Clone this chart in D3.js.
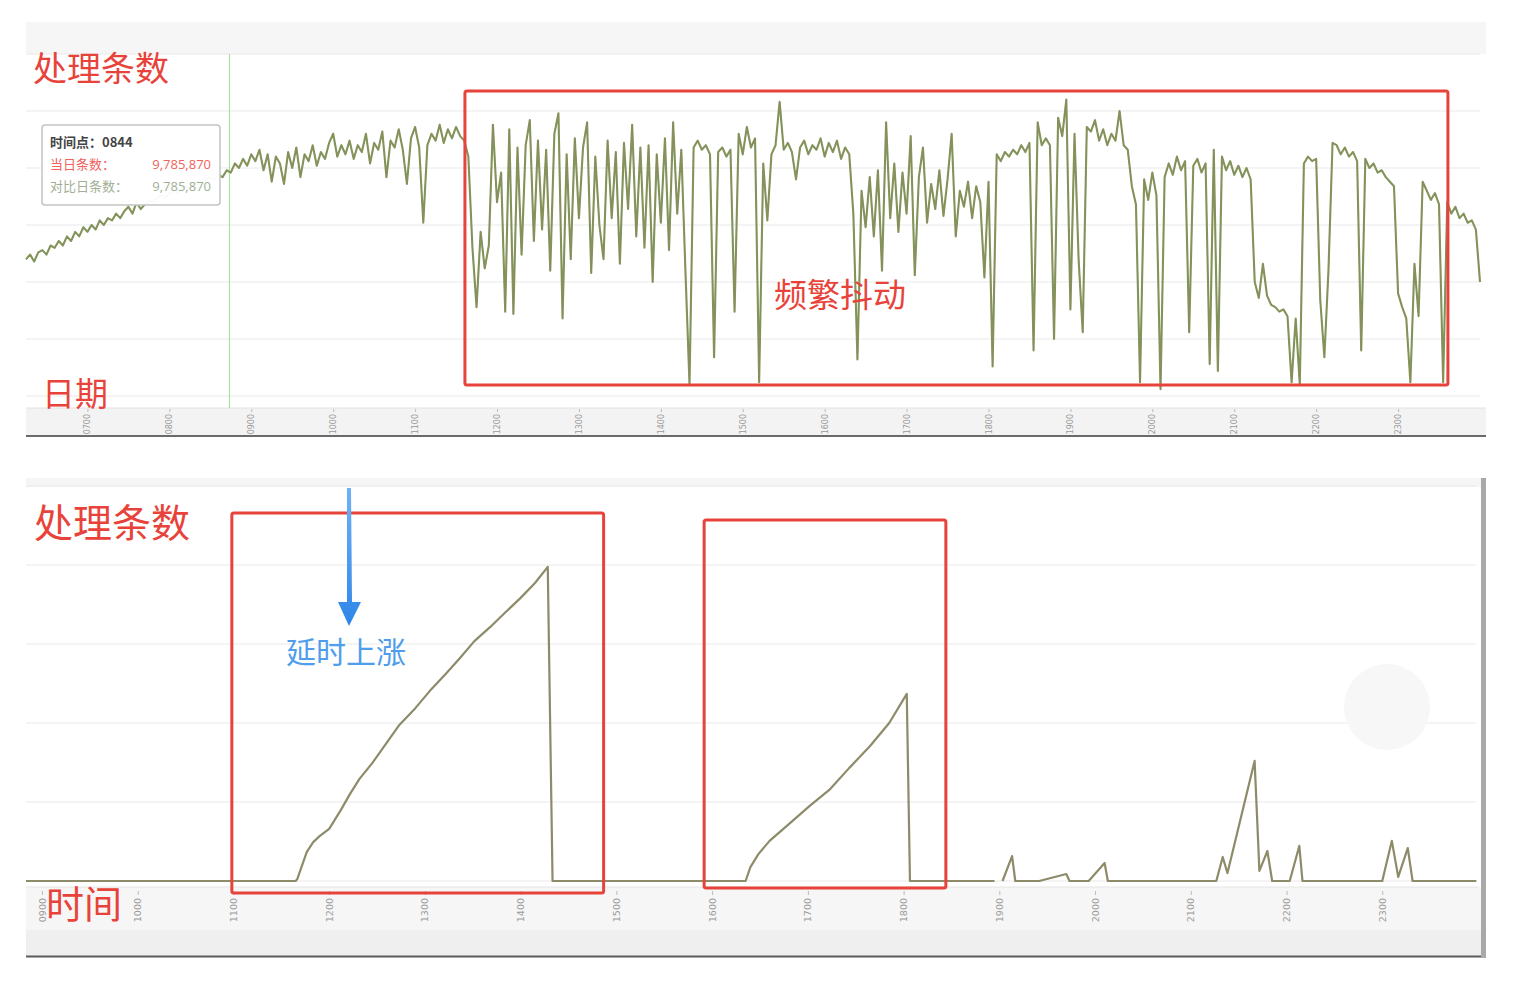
<!DOCTYPE html>
<html><head><meta charset="utf-8">
<script src="https://cdn.jsdelivr.net/npm/d3@7"></script>
<style>html,body{margin:0;padding:0;background:#fff;}svg{display:block;}</style>
</head><body>
<svg id="c" width="1516" height="986"></svg>
<script>
// ---------- DATA ----------
// Top chart: 处理条数 per 3-minute slot starting 06:15 (values in millions)
const topStartMinute = 375;
const topStepMinutes = 3;
const topValues = [
6.0,6.2,5.9,6.3,6.4,6.2,6.6,6.5,6.8,6.6,7.0,6.8,7.2,7.0,7.4,7.2,7.5,7.3,7.7,7.5,
7.8,7.7,8.0,7.8,8.1,8.3,8.0,8.5,8.2,8.4,8.6,8.5,8.7,8.8,8.7,8.9,9.0,8.9,9.1,9.2,
9.1,9.3,9.4,9.3,9.5,9.6,9.5,9.7,9.6,9.9,9.8,10.2,10.0,10.4,10.1,10.6,10.3,10.8,9.9,10.6,
9.4,10.5,10.2,9.3,10.7,10.0,10.9,9.6,10.6,10.3,11.0,10.1,10.7,10.4,11.1,11.5,10.5,11.0,10.6,11.2,
10.4,11.0,10.7,11.5,10.2,11.1,10.8,11.6,9.6,11.2,10.9,11.7,10.8,9.3,11.3,11.8,10.9,7.6,11.0,11.5,
11.2,11.9,11.1,11.7,11.3,11.8,11.4,11.2,
10.5,6.5,3.9,7.2,5.6,6.6,11.9,8.5,9.8,3.7,11.7,3.6,10.9,6.2,11.0,12.1,6.8,11.2,7.3,10.8,
5.5,11.5,12.4,3.4,10.6,6.0,11.3,7.8,10.9,12.0,5.4,10.5,7.5,6.0,11.2,7.8,10.7,5.8,11.1,8.2,
11.9,7.0,10.9,6.5,11.0,5.0,10.6,7.6,11.3,6.4,12.0,8.0,10.8,5.5,0.5,
10.9,11.2,10.8,11.0,10.6,1.7,10.7,10.9,10.5,10.8,3.7,11.5,10.6,11.8,10.9,11.3,0.6,10.2,7.7,10.6,
11.0,12.9,10.8,11.1,10.7,9.5,10.9,11.2,10.6,11.0,10.8,11.3,10.5,11.1,10.7,11.2,10.4,10.9,10.6,
8.0,1.6,9.0,7.4,9.6,7.0,9.9,5.5,12.0,7.8,10.2,7.2,9.8,8.0,11.4,5.3,9.6,10.9,7.6,9.3,
8.2,9.9,7.9,9.5,11.5,7.0,9.0,8.3,9.4,7.8,9.2,8.5,5.2,9.4,
1.3,10.6,10.3,10.7,10.5,10.8,10.6,11.0,10.7,11.1,2.0,12.0,11.0,11.3,11.0,2.5,12.2,11.4,13.0,3.8,
11.5,6.0,2.8,11.8,11.6,12.1,11.2,11.7,11.0,11.5,11.2,12.5,11.0,10.8,9.2,8.4,0.6,
9.5,8.6,9.8,8.8,0.3,9.6,10.2,9.7,10.5,9.9,10.3,2.8,10.1,10.4,9.8,10.2,1.4,10.8,1.1,10.5,
9.9,10.3,9.7,10.1,9.6,10.0,9.5,
5.0,4.3,5.8,4.4,4.0,3.9,3.7,3.8,3.5,0.6,3.4,0.5,10.2,10.5,10.3,10.4,4.2,1.7,5.5,
11.1,11.0,10.6,10.9,10.5,10.7,10.3,2.0,10.4,10.0,10.2,9.8,9.9,9.6,9.4,9.2,
4.5,3.9,3.4,0.6,5.8,3.5,9.4,9.0,8.6,8.9,8.4,0.6,8.5,8.0,8.3,7.8,8.0,7.6,7.7,7.3,5.0
];
const topTicks = ["0700","0800","0900","1000","1100","1200","1300","1400","1500","1600","1700","1800","1900","2000","2100","2200","2300"];

// Bottom chart: 处理条数 (delay) at time points
const bottomTimes = ["0850","1139","1140","1146","1150","1154","1200","1207","1213","1219","1227","1235","1244","1254","1303","1313","1322","1331","1341","1350","1400","1409","1417","1420",
"1621","1624","1629","1636","1649","1701","1714","1726","1739","1751","1802","1804",
"1857","1859","1902","1908","1910","1925","1942","1944","1956","2006","2008",
"2116","2120","2123","2140","2143","2148","2151","2202","2208","2210",
"2300","2306","2310","2316","2319","2359"];
const bottomValues = [0,0,0.06,0.92,1.23,1.42,1.65,2.22,2.75,3.23,3.73,4.30,4.94,5.47,6.01,6.55,7.06,7.59,8.04,8.48,8.96,9.43,9.94,0,
0,0.44,0.85,1.27,1.84,2.37,2.91,3.58,4.27,5.00,5.92,0,
0,null,0,0.79,0,0,0.22,0,0,0.57,0,
0,0.76,0.25,3.80,0.32,0.95,0,0,1.11,0,
0,1.27,0.13,1.04,0,0];
const bottomTicks = ["0900","1000","1100","1200","1300","1400","1500","1600","1700","1800","1900","2000","2100","2200","2300"];

const tooltipLines = [["时间点：0844",""],["当日条数：","9,785,870"],["对比日条数：","9,785,870"]];

// ---------- HELPERS ----------
const toMin = s => +s.slice(0,2)*60 + +s.slice(2);
const svg = d3.select("#c");
const CJK = "'Noto Sans CJK SC','Noto Sans',sans-serif";
const RED = "#e8433a";

// ---------- TOP PANEL ----------
const tx = d3.scaleLinear().domain([375,1440]).range([26,1480]);
const ty = d3.scaleLinear().domain([0,15]).range([396,54]);

svg.append("rect").attr("x",26).attr("y",22).attr("width",1460).attr("height",32).attr("fill","#f6f6f6");
svg.append("rect").attr("x",26).attr("y",54).attr("width",1460).attr("height",354).attr("fill","#fff");
svg.append("rect").attr("x",26).attr("y",408).attr("width",1460).attr("height",27).attr("fill","#f3f3f3");
svg.append("line").attr("x1",26).attr("x2",1486).attr("y1",408).attr("y2",408).attr("stroke","#e2e2e2");
svg.append("line").attr("x1",26).attr("x2",1486).attr("y1",436).attr("y2",436).attr("stroke","#6a6a6a").attr("stroke-width",2);

svg.append("g").selectAll("line").data(d3.range(0,15.01,2.5)).join("line")
  .attr("x1",26).attr("x2",1480).attr("y1",d=>ty(d)).attr("y2",d=>ty(d))
  .attr("stroke","#e9e9e9").attr("stroke-width",1.2);

const topAxis = d3.axisBottom(tx).tickValues(topTicks.map(toMin)).tickFormat((d,i)=>topTicks[i]).tickSize(3).tickPadding(2);
const gTop = svg.append("g").attr("transform","translate(0,409)").call(topAxis);
gTop.select(".domain").remove();
gTop.selectAll(".tick line").attr("stroke","#bbb");
gTop.selectAll(".tick text").attr("transform","rotate(-90)").attr("text-anchor","end")
  .attr("x",-5).attr("y",0).attr("dy","0.32em").attr("fill","#9a9a9a").attr("font-size",8)
  .attr("font-family","'DejaVu Sans',sans-serif");

// cursor line at tooltip time
svg.append("line").attr("x1",tx(toMin("0844"))).attr("x2",tx(toMin("0844"))).attr("y1",54).attr("y2",408)
  .attr("stroke","#8fd57a").attr("stroke-width",1).attr("stroke-opacity",0.8);

const topData = topValues.map((v,i)=>({t: topStartMinute + i*topStepMinutes, v}));
const topLine = d3.line().x(d=>tx(d.t)).y(d=>ty(d.v));
svg.append("path").datum(topData).attr("d",topLine).attr("fill","none")
  .attr("stroke","#7c9a5a").attr("stroke-width",2.1).attr("stroke-linejoin","round");
svg.append("path").datum(topData).attr("d",topLine).attr("fill","none")
  .attr("stroke","#9c7f60").attr("stroke-width",1).attr("stroke-opacity",0.55).attr("stroke-linejoin","round");

// tooltip
const tip = svg.append("g").attr("transform","translate(42,125)");
tip.append("rect").attr("width",178).attr("height",80).attr("rx",3).attr("fill","#fff").attr("fill-opacity",0.96)
  .attr("stroke","#c4c4c4").attr("stroke-width",1.5);
tip.append("text").attr("x",8).attr("y",22).text(tooltipLines[0][0]).attr("font-size",13).attr("font-weight","bold")
  .attr("fill","#444").attr("font-family",CJK);
const tipColors = ["#444","#f0625c","#9fb096"];
[1,2].forEach(k=>{
  tip.append("text").attr("x",8).attr("y",22+k*22).text(tooltipLines[k][0]).attr("font-size",13).attr("fill",tipColors[k]).attr("font-family",CJK);
  tip.append("text").attr("x",169).attr("y",22+k*22).attr("text-anchor","end").text(tooltipLines[k][1]).attr("font-size",13).attr("fill",tipColors[k]).attr("font-family","'Open Sans',sans-serif");
});

// annotations top
svg.append("rect").attr("x",tx(696.5)).attr("y",ty(13.38)).attr("width",tx(1416.5)-tx(696.5)).attr("height",ty(0.48)-ty(13.38))
  .attr("rx",2).attr("fill","none").attr("stroke",RED).attr("stroke-width",3);
svg.append("text").attr("x",33).attr("y",81).text("处理条数").attr("font-size",34).attr("fill",RED).attr("font-family",CJK);
svg.append("text").attr("x",42).attr("y",406).text("日期").attr("font-size",33).attr("fill",RED).attr("font-family",CJK);
svg.append("text").attr("x",774).attr("y",307).text("频繁抖动").attr("font-size",33).attr("fill",RED).attr("font-family",CJK);

// ---------- BOTTOM PANEL ----------
const bx = d3.scaleLinear().domain([530,1440]).range([26,1478]);
const by = d3.scaleLinear().domain([0,12.5]).range([881,486]);

svg.append("rect").attr("x",26).attr("y",478).attr("width",1456).attr("height",9).attr("fill","#f5f5f5");
svg.append("rect").attr("x",26).attr("y",487).attr("width",1456).attr("height",400).attr("fill","#fff");
svg.append("rect").attr("x",26).attr("y",887).attr("width",1456).attr("height",43).attr("fill","#f6f6f6");
svg.append("rect").attr("x",26).attr("y",930).attr("width",1456).attr("height",26).attr("fill","#efefef");
svg.append("line").attr("x1",26).attr("x2",1486).attr("y1",956.5).attr("y2",956.5).attr("stroke","#5a5a5a").attr("stroke-width",2);
svg.append("rect").attr("x",1481).attr("y",478).attr("width",5).attr("height",479).attr("fill","#a9a9a9");
svg.append("line").attr("x1",26).attr("x2",1478).attr("y1",887).attr("y2",887).attr("stroke","#e4e4e4");

svg.append("g").selectAll("line").data(d3.range(0,12.51,2.5)).join("line")
  .attr("x1",26).attr("x2",1476).attr("y1",d=>by(d)).attr("y2",d=>by(d))
  .attr("stroke","#e9e9e9").attr("stroke-width",1.2);

svg.append("circle").attr("cx",1387).attr("cy",707).attr("r",43).attr("fill","#f7f7f7");

const botAxis = d3.axisBottom(bx).tickValues(bottomTicks.map(toMin)).tickFormat((d,i)=>bottomTicks[i]).tickSize(4).tickPadding(2);
const gBot = svg.append("g").attr("transform","translate(0,891)").call(botAxis);
gBot.select(".domain").remove();
gBot.selectAll(".tick line").attr("stroke","#bbb");
gBot.selectAll(".tick text").attr("transform","rotate(-90)").attr("text-anchor","end")
  .attr("x",-7).attr("y",0).attr("dy","0.32em").attr("fill","#9a9a9a").attr("font-size",9.5)
  .attr("font-family","'DejaVu Sans',sans-serif");

const botData = bottomTimes.map((t,i)=>({t: toMin(t), v: bottomValues[i]}));
svg.append("path").datum(botData)
  .attr("d", d3.line().defined(d=>d.v!=null).x(d=>bx(d.t)).y(d=>by(d.v)))
  .attr("fill","none").attr("stroke","#8d8b69").attr("stroke-width",2.2).attr("stroke-linejoin","round");

// annotations bottom
svg.append("rect").attr("x",bx(659)).attr("y",513).attr("width",bx(892)-bx(659)).attr("height",380)
  .attr("rx",2).attr("fill","none").attr("stroke",RED).attr("stroke-width",3);
svg.append("rect").attr("x",bx(955)).attr("y",520).attr("width",bx(1106.5)-bx(955)).attr("height",368)
  .attr("rx",2).attr("fill","none").attr("stroke",RED).attr("stroke-width",3);
svg.append("text").attr("x",34).attr("y",537).text("处理条数").attr("font-size",39).attr("fill",RED).attr("font-family",CJK);
svg.append("text").attr("x",46).attr("y",918).text("时间").attr("font-size",38).attr("fill",RED).attr("font-family",CJK);
svg.append("text").attr("x",286).attr("y",663).text("延时上涨").attr("font-size",30).attr("fill","#4f9ded").attr("font-family",CJK);

// blue arrow
const defs = svg.append("defs");
const grad = defs.append("linearGradient").attr("id","ag").attr("x1",0).attr("x2",0).attr("y1",0).attr("y2",1);
grad.append("stop").attr("offset","0%").attr("stop-color","#6fb2f5");
grad.append("stop").attr("offset","100%").attr("stop-color","#2f86e8");
svg.append("path").attr("d","M347,488 L351,488 L352,602 L361,602 L349,626 L338,602 L347,602 Z").attr("fill","url(#ag)");
</script>
</body></html>
